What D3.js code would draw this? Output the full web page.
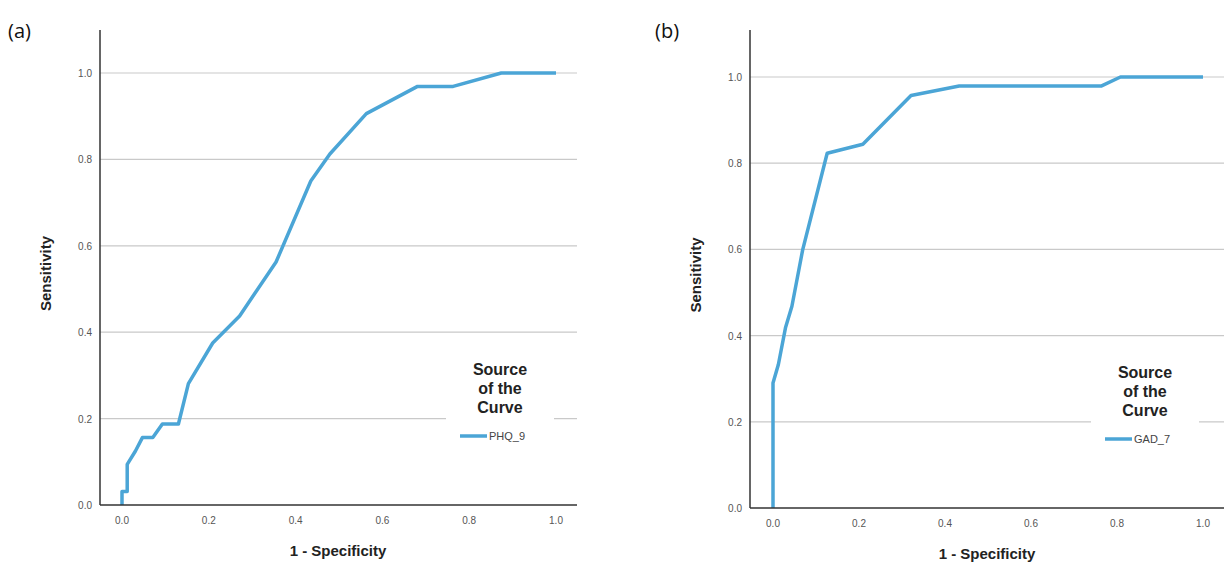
<!DOCTYPE html>
<html>
<head>
<meta charset="utf-8">
<script src="https://cdn.jsdelivr.net/npm/d3@7"></script>
<style>
  body { margin: 0; background: #fff; }
  svg { display: block; }
</style>
</head>
<body>
<div id="chart"></div>
<script>
// ROC curves: 1 - specificity (x) and sensitivity (y)
const phqX = [0, 0, 0.012, 0.012, 0.031, 0.047, 0.071, 0.093, 0.130, 0.153, 0.209, 0.271, 0.355, 0.435, 0.479, 0.563, 0.681, 0.763, 0.874, 1.0];
const phqY = [0, 0.031, 0.031, 0.094, 0.125, 0.156, 0.156, 0.1875, 0.1875, 0.281, 0.375, 0.4375, 0.5625, 0.75, 0.8125, 0.906, 0.969, 0.969, 1.0, 1.0];

const gadX = [0, 0, 0.0125, 0.029, 0.044, 0.069, 0.126, 0.209, 0.321, 0.433, 0.763, 0.808, 1.0];
const gadY = [0, 0.29, 0.333, 0.418, 0.468, 0.599, 0.823, 0.844, 0.957, 0.979, 0.979, 1.0, 1.0];

const ticks = [0, 0.2, 0.4, 0.6, 0.8, 1.0];
const panelLabels = ["(a)", "(b)"];
const seriesNames = ["PHQ_9", "GAD_7"];

const W = 1224, H = 566;
const lineColor = "#4ba5d6";

const svg = d3.select("#chart").append("svg")
  .attr("width", W)
  .attr("height", H);

// pixel layout of each panel (value 0 / value 1 on each axis)
const panels = [
  { x0: 122, x1: 556, y0: 505, y1: 73, left: 100, right: 577, top: 30, tag: [8, 38],
    legX: 500, legY: 370, xs: phqX, ys: phqY },
  { x0: 773, x1: 1203, y0: 508, y1: 77, left: 750, right: 1226, top: 30, tag: [655, 38],
    legX: 1145, legY: 373, xs: gadX, ys: gadY }
];

panels.forEach((p, i) => {
  const g = svg.append("g");
  const x = d3.scaleLinear().domain([0, 1]).range([p.x0, p.x1]);
  const y = d3.scaleLinear().domain([0, 1]).range([p.y0, p.y1]);

  // grid lines
  g.selectAll(".grid").data(ticks.slice(1)).enter()
    .append("line")
    .attr("x1", p.left).attr("x2", p.right)
    .attr("y1", d => y(d)).attr("y2", d => y(d))
    .style("stroke", "#c9c9c9")
    .style("stroke-width", 1.2);

  // y tick labels
  g.selectAll(".ytick").data(ticks).enter()
    .append("text")
    .attr("x", p.left - 8)
    .attr("y", d => y(d) + 4)
    .attr("text-anchor", "end")
    .style("font-family", "Liberation Sans, Arial, sans-serif")
    .style("font-size", "10px")
    .style("fill", "#555")
    .text(d => d3.format(".1f")(d));

  // x tick labels
  g.selectAll(".xtick").data(ticks).enter()
    .append("text")
    .attr("x", d => x(d))
    .attr("y", p.y0 + 19)
    .attr("text-anchor", "middle")
    .style("font-family", "Liberation Sans, Arial, sans-serif")
    .style("font-size", "10px")
    .style("fill", "#555")
    .text(d => d3.format(".1f")(d));

  // legend (white box interrupts the 0.2 grid line)
  const leg = g.append("g");
  leg.append("rect")
    .attr("x", p.legX - 54).attr("y", p.legY - 16)
    .attr("width", 108).attr("height", 80)
    .style("fill", "#fff");
  ["Source", "of the", "Curve"].forEach((t, k) => {
    leg.append("text")
      .attr("x", p.legX)
      .attr("y", p.legY + 5 + k * 19)
      .attr("text-anchor", "middle")
      .style("font-family", "Liberation Sans, Arial, sans-serif")
      .style("font-weight", "bold")
      .style("font-size", "16px")
      .style("fill", "#222")
      .text(t);
  });
  leg.append("line")
    .attr("x1", p.legX - 40).attr("x2", p.legX - 13)
    .attr("y1", p.legY + 66).attr("y2", p.legY + 66)
    .style("stroke", lineColor)
    .style("stroke-width", 3.5);
  leg.append("text")
    .attr("x", p.legX - 11)
    .attr("y", p.legY + 70)
    .style("font-family", "Liberation Sans, Arial, sans-serif")
    .style("font-size", "11px")
    .style("fill", "#444")
    .text(seriesNames[i]);

  // curve
  const pts = p.xs.map((v, k) => [v, p.ys[k]]);
  g.append("path")
    .datum(pts)
    .attr("d", d3.line().x(d => x(d[0])).y(d => y(d[1])))
    .style("fill", "none")
    .style("stroke", lineColor)
    .style("stroke-width", 3.5)
    .style("stroke-linejoin", "round");

  // axis lines
  g.append("line")
    .attr("x1", p.left).attr("x2", p.left)
    .attr("y1", p.top).attr("y2", p.y0)
    .style("stroke", "#333").style("stroke-width", 1.5);
  g.append("line")
    .attr("x1", p.left).attr("x2", p.right)
    .attr("y1", p.y0).attr("y2", p.y0)
    .style("stroke", "#333").style("stroke-width", 1.5);

  // axis titles
  g.append("text")
    .attr("transform", `translate(${p.left - 49}, ${(p.top + p.y0) / 2 + 6}) rotate(-90)`)
    .attr("text-anchor", "middle")
    .style("font-family", "Liberation Sans, Arial, sans-serif")
    .style("font-weight", "bold")
    .style("font-size", "15px")
    .style("fill", "#222")
    .text("Sensitivity");
  g.append("text")
    .attr("x", (p.x0 + p.x1) / 2 - 1)
    .attr("y", p.y0 + 51)
    .attr("text-anchor", "middle")
    .style("font-family", "Liberation Sans, Arial, sans-serif")
    .style("font-weight", "bold")
    .style("font-size", "15px")
    .style("fill", "#222")
    .text("1 - Specificity");

  // panel tag
  g.append("text")
    .attr("x", p.tag[0]).attr("y", p.tag[1])
    .style("font-family", "Open Sans, sans-serif")
    .style("font-size", "20px")
    .style("fill", "#111")
    .text(panelLabels[i]);
});
</script>
</body>
</html>
